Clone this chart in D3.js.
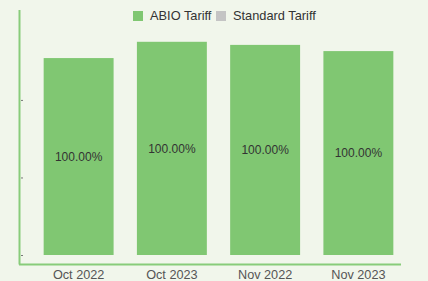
<!DOCTYPE html>
<html>
<head>
<meta charset="utf-8">
<script src="https://cdn.jsdelivr.net/npm/d3@7"></script>
<style>
  body { margin: 0; background: #f1f6eb; }
  svg { display: block; font-family: 'Liberation Sans', Arial, sans-serif; }
</style>
</head>
<body>
<svg id="canvas"></svg>
<script>
// Chart data
var months = ['Oct 2022', 'Oct 2023', 'Nov 2022', 'Nov 2023'];
var abioTariff = [2.54, 2.75, 2.71, 2.63];
var standardTariff = [0, 0, 0, 0];
var seriesNames = ['ABIO Tariff', 'Standard Tariff'];
var yTicks = [0, 1, 2];

// Canvas size
var canvasWidth = 428;
var canvasHeight = 281;

var colors = {
  abio: '#80c772',
  standard: '#c4c4c4',
  axis: '#88cc7a',
  text: '#333333',
  label: '#555555'
};

var svg = d3.select('#canvas')
  .attr('width', canvasWidth)
  .attr('height', canvasHeight);

// Scales
var xScale = d3.scaleBand()
  .domain(months)
  .range([32, 405])
  .paddingInner(0.25)
  .paddingOuter(0.125);

var yScale = d3.scaleLinear()
  .domain([0, 3.16])
  .range([255, 10]);

var data = months.map(function(m, i) {
  return { month: m, abio: abioTariff[i], standard: standardTariff[i] };
});

// Axis lines
svg.append('line')
  .attr('x1', 19.5).attr('x2', 19.5)
  .attr('y1', yScale.range()[1]).attr('y2', 264.5)
  .attr('stroke', colors.axis)
  .attr('stroke-width', 2);

svg.append('line')
  .attr('x1', 19).attr('x2', 401)
  .attr('y1', 264.5).attr('y2', 264.5)
  .attr('stroke', colors.axis)
  .attr('stroke-width', 2);

// Tiny tick marks
svg.append('g')
  .selectAll('line')
  .data(yTicks)
  .enter()
  .append('line')
  .attr('x1', 21).attr('x2', 23)
  .attr('y1', function(d) { return yScale(d) + 0.5; })
  .attr('y2', function(d) { return yScale(d) + 0.5; })
  .attr('stroke', '#777')
  .attr('stroke-width', 1);

// Bars
var bars = svg.append('g')
  .selectAll('g')
  .data(data)
  .enter()
  .append('g');

bars.append('rect')
  .attr('x', function(d) { return xScale(d.month); })
  .attr('width', xScale.bandwidth())
  .attr('y', function(d) { return yScale(d.abio + d.standard); })
  .attr('height', function(d) { return yScale(0) - yScale(d.abio); })
  .attr('fill', colors.abio);

bars.append('text')
  .attr('x', function(d) { return xScale(d.month) + xScale.bandwidth() / 2; })
  .attr('y', function(d) { return (yScale(d.abio) + yScale(0)) / 2; })
  .attr('dy', '0.35em')
  .attr('text-anchor', 'middle')
  .attr('font-size', 12)
  .attr('fill', colors.text)
  .text(function(d) {
    return (d.abio / (d.abio + d.standard) * 100).toFixed(2) + '%';
  });

// X labels
svg.append('g')
  .selectAll('text')
  .data(months)
  .enter()
  .append('text')
  .attr('x', function(d) { return xScale(d) + xScale.bandwidth() / 2; })
  .attr('y', 278.5)
  .attr('text-anchor', 'middle')
  .attr('font-size', 12.7)
  .attr('fill', colors.label)
  .text(function(d) { return d; });

// Legend
var legend = svg.append('g').attr('transform', 'translate(133,11)');
var legendX = [0, 83];
var legendColors = [colors.abio, colors.standard];

var items = legend.selectAll('g')
  .data(seriesNames)
  .enter()
  .append('g')
  .attr('transform', function(d, i) { return 'translate(' + legendX[i] + ',0)'; });

items.append('rect')
  .attr('width', 10)
  .attr('height', 10)
  .attr('fill', function(d, i) { return legendColors[i]; });

items.append('text')
  .attr('x', 17)
  .attr('y', 5)
  .attr('dy', '0.35em')
  .attr('font-size', 12.8)
  .attr('fill', colors.text)
  .text(function(d) { return d; });
</script>
</body>
</html>
